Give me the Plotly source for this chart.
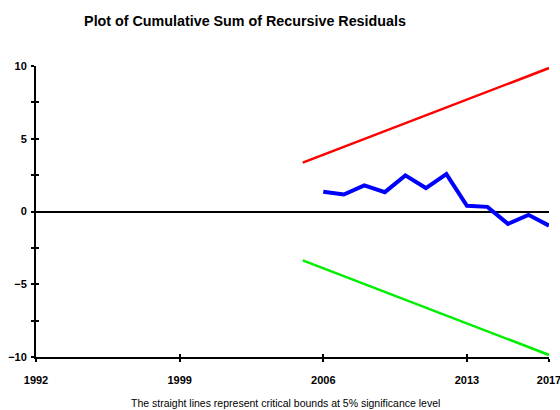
import plotly.graph_objects as go

years_cusum = [2006, 2007, 2008, 2009, 2010, 2011, 2012, 2013, 2014, 2015, 2016, 2017]
cusum = [1.36, 1.17, 1.79, 1.33, 2.48, 1.61, 2.57, 0.39, 0.32, -0.85, -0.23, -0.97]
years_bound = [2005, 2017]
upper = [3.36, 9.86]
lower = [-3.36, -9.86]
x_ticks = [1992, 1999, 2006, 2013, 2017]
y_ticks = [-10, -5, 0, 5, 10]

W, H = 560, 410
L, T, R, B = 36, 66, 11, 53
PW = W - L - R

fig = go.Figure()
fig.add_trace(go.Scatter(x=years_bound, y=upper, mode="lines",
                         line=dict(color="#FF0000", width=2.5), showlegend=False))
fig.add_trace(go.Scatter(x=years_bound, y=lower, mode="lines",
                         line=dict(color="#00EE00", width=2.5), showlegend=False))
fig.add_trace(go.Scatter(x=years_cusum, y=cusum, mode="lines",
                         line=dict(color="#0000FF", width=4), showlegend=False))

font_ticks = dict(family="Liberation Sans, Arial, sans-serif", size=11, color="black", weight="bold")

fig.update_layout(
    width=W, height=H,
    margin=dict(l=L, r=R, t=T, b=B, pad=0, autoexpand=False),
    paper_bgcolor="white", plot_bgcolor="white",
    title=dict(text="<b>Plot of Cumulative Sum of Recursive Residuals</b>",
               x=245 / W, xanchor="center", xref="container", y=1 - 21 / H, yanchor="middle",
               font=dict(family="Liberation Sans, Arial, sans-serif", size=14.3, color="black")),
    xaxis=dict(range=[1992, 2017], tickvals=x_ticks, ticktext=[str(v) for v in x_ticks],
               showgrid=False, zeroline=False, showline=True, linecolor="black", linewidth=2,
               ticks="outside", ticklen=3, tickwidth=1.5, tickcolor="black",
               tickfont=font_ticks, ticklabelstandoff=9, ticklabeloverflow="allow",
               automargin=False),
    yaxis=dict(range=[-10, 10], tickvals=y_ticks, showgrid=False,
               zeroline=True, zerolinecolor="black", zerolinewidth=1.5,
               showline=True, linecolor="black", linewidth=2,
               ticks="outside", ticklen=3, tickwidth=1.5, tickcolor="black",
               tickfont=font_ticks, ticklabelstandoff=2, ticklabeloverflow="allow",
               automargin=False,
               minor=dict(dtick=2.5, ticks="outside", ticklen=3, tickwidth=1.5, tickcolor="black")),
    xaxis2=dict(range=[1992, 2017], tickvals=x_ticks, overlaying="x", side="bottom",
                showgrid=False, zeroline=False, showticklabels=False, automargin=False,
                ticks="inside", ticklen=3, tickwidth=1.5, tickcolor="black"),
    yaxis2=dict(range=[-10, 10], dtick=2.5, tick0=0, overlaying="y", side="left",
                showgrid=False, zeroline=False, showticklabels=False, automargin=False,
                ticks="inside", ticklen=3, tickwidth=1.5, tickcolor="black"),
    annotations=[dict(text="The straight lines represent critical bounds at 5% significance level",
                      x=(285 - L) / PW, y=-(403 - 357) / 291, xref="paper", yref="paper",
                      xanchor="center", yanchor="middle", showarrow=False,
                      font=dict(family="Liberation Sans, Arial, sans-serif", size=10.5, color="black"))],
)
fig.add_trace(go.Scatter(x=[None], y=[None], xaxis="x2", yaxis="y2", showlegend=False, hoverinfo="skip"))

fig.write_html("out.html", config={"displayModeBar": False},
               post_script="document.body.style.margin='0';document.body.style.overflow='hidden';")
